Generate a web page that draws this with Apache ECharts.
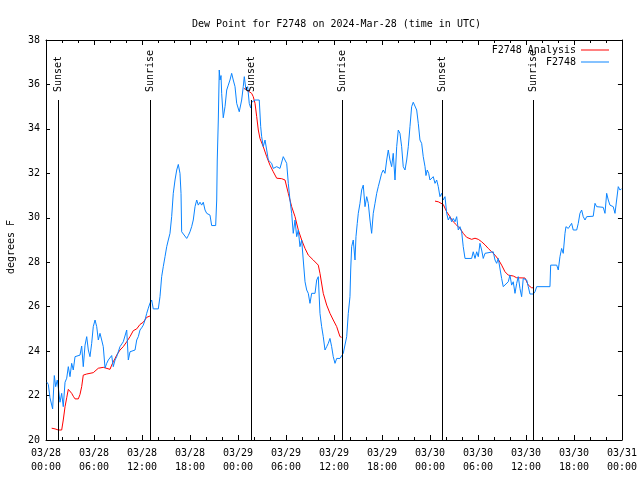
<!DOCTYPE html>
<html>
<head>
<meta charset="utf-8">
<script src="https://cdn.jsdelivr.net/npm/echarts@6/dist/echarts.min.js"></script>
<style>html,body{margin:0;padding:0;background:#fff}#c{width:640px;height:480px}</style>
</head>
<body>
<div id="c"></div>
<script>
// ---- data (hours since 2024-03-28 00:00 UTC) ----
const xTickLabels = ['03/28\n00:00','03/28\n06:00','03/28\n12:00','03/28\n18:00','03/29\n00:00','03/29\n06:00','03/29\n12:00','03/29\n18:00','03/30\n00:00','03/30\n06:00','03/30\n12:00','03/30\n18:00','03/31\n00:00'];
const yTicks = [20,22,24,26,28,30,32,34,36,38];

const blueHours = [0.12,0.29,0.5,0.83,1.04,1.21,1.41,1.56,1.75,1.96,2.16,2.38,2.59,2.79,3.0,3.21,3.41,3.63,3.84,4.25,4.46,4.66,4.88,5.09,5.29,5.5,5.71,5.91,6.13,6.34,6.54,6.75,6.96,7.16,7.38,7.59,7.79,8.0,8.21,8.41,8.63,8.84,9.25,9.66,9.88,10.09,10.29,10.5,11.13,11.34,11.54,11.75,11.96,12.16,12.38,12.59,12.79,13.0,13.21,13.41,14.04,14.25,14.46,14.66,14.88,15.09,15.29,15.5,15.71,15.91,16.13,16.34,16.54,16.75,16.88,16.96,17.16,17.59,17.79,18.0,18.21,18.41,18.63,18.84,19.04,19.25,19.46,19.66,19.88,20.09,20.29,20.5,20.71,21.21,21.34,21.41,21.54,21.66,21.75,21.88,21.96,22.16,22.38,22.59,22.79,23.0,23.21,23.41,23.63,23.84,24.16,24.46,24.66,24.79,25.0,25.21,25.41,25.59,25.71,26.13,26.66,26.84,26.96,27.16,27.38,27.59,27.79,28.0,28.21,28.41,28.84,29.04,29.25,29.66,29.88,30.09,30.29,30.5,30.71,30.91,31.13,31.34,31.54,31.75,31.96,32.16,32.38,32.59,32.79,33.0,33.21,33.63,33.84,34.04,34.25,34.46,34.66,34.88,35.09,35.29,35.5,35.71,35.91,36.13,36.34,36.75,37.16,37.38,37.59,37.79,38.0,38.09,38.21,38.41,38.63,38.75,38.91,39.04,39.25,39.46,39.66,39.88,40.09,40.29,40.5,40.71,40.91,41.13,41.34,41.54,41.75,41.96,42.16,42.38,42.59,42.79,43.0,43.21,43.41,43.63,43.84,44.04,44.25,44.46,44.66,44.88,45.09,45.29,45.5,45.71,45.91,46.13,46.34,46.54,46.75,46.96,47.16,47.38,47.5,47.66,47.84,48.0,48.21,48.41,48.63,48.84,49.04,49.25,49.46,49.66,49.88,50.09,50.29,50.5,50.71,50.91,51.13,51.34,51.54,51.75,51.96,52.16,52.38,53.21,53.41,53.63,53.84,54.04,54.25,54.46,54.66,54.88,55.09,55.91,56.13,56.34,56.54,56.75,56.96,57.16,57.38,57.79,58.0,58.21,58.41,58.63,58.84,59.04,59.25,59.46,59.66,59.88,60.09,60.29,60.5,60.91,61.13,61.34,63.0,63.09,63.84,64.04,64.25,64.46,64.66,64.88,65.0,65.29,65.5,65.71,65.91,66.34,66.54,66.75,66.96,67.16,67.38,67.59,68.41,68.63,68.84,69.66,69.88,70.09,70.29,70.5,70.71,70.91,71.13,71.38,71.54,71.75,71.94];
const blueValues = [22.6,22.5,21.9,21.4,22.9,22.4,22.7,22.3,21.7,22.1,21.5,22.6,22.78,23.3,22.85,23.45,23.15,23.75,23.75,23.82,24.23,23.3,24.27,24.65,24.05,23.75,24.35,25.1,25.4,25.1,24.5,24.8,24.5,24.2,23.24,23.45,23.6,23.6,23.8,23.3,23.6,23.75,24.2,24.42,24.5,24.95,23.6,23.97,24.05,24.5,24.65,24.95,25.05,25.17,25.4,25.7,25.93,26.16,26.3,25.9,25.9,26.45,27.35,27.8,28.25,28.7,29.0,29.3,30.05,31.1,31.7,32.15,32.4,32.0,31.1,29.37,29.3,29.07,29.2,29.37,29.6,29.9,30.5,30.8,30.57,30.7,30.57,30.7,30.35,30.2,30.27,30.12,29.65,29.65,30.8,32.6,34.4,36.65,36.2,36.4,35.6,34.5,35.0,35.75,35.97,36.2,36.5,36.2,35.9,35.15,34.77,35.3,35.9,36.35,35.75,35.9,35.15,34.94,35.2,35.3,35.3,34.1,33.65,33.2,33.5,33.05,32.6,32.67,32.45,32.22,32.3,32.37,32.22,32.75,32.75,32.45,31.55,30.8,30.2,29.3,29.9,29.15,29.45,28.7,29.0,28.1,27.12,26.75,26.6,26.15,26.6,26.6,27.2,27.35,25.7,25.1,24.65,24.05,24.2,24.35,24.57,24.2,23.75,23.45,23.67,23.67,23.9,23.9,24.65,25.7,26.45,27.65,28.7,29.0,28.1,29.15,29.75,30.2,30.65,31.25,31.47,30.5,30.95,30.65,29.9,29.3,30.2,30.65,31.1,31.4,31.7,32.0,32.15,32.0,32.6,33.05,32.6,32.3,32.9,31.7,33.2,33.95,33.8,33.2,32.3,32.15,32.6,33.2,34.1,35.0,35.2,35.15,34.85,34.25,33.5,33.35,32.75,32.3,31.9,32.15,32.0,31.7,31.7,31.85,31.55,31.7,31.4,30.95,31.1,30.8,30.95,30.2,29.9,30.05,29.82,29.97,29.82,30.05,29.45,29.6,29.37,28.7,28.17,28.17,28.47,28.17,28.47,28.25,28.85,28.55,28.17,28.4,28.47,28.47,28.1,27.95,28.17,28.17,27.27,26.9,26.9,27.12,27.42,26.97,27.12,26.6,27.05,27.35,26.82,26.45,27.27,27.35,27.2,26.9,26.57,26.57,26.67,26.9,26.9,27.87,27.87,27.65,28.25,28.62,28.4,29.3,29.6,29.52,29.6,29.75,29.45,29.45,29.75,30.2,30.35,30.05,29.9,30.05,30.07,30.65,30.5,30.47,30.2,31.1,30.8,30.57,30.5,30.5,30.2,30.2,31.4,31.25,31.3];

const redHours = [0.71,1.13,1.54,1.96,2.16,2.38,2.59,2.79,3.0,3.21,3.41,3.63,4.04,4.25,4.46,4.66,5.09,5.5,5.91,6.13,6.54,6.75,7.16,7.38,8.0,8.21,8.41,8.63,8.84,9.25,9.66,10.09,10.5,10.91,11.34,11.75,12.16,12.59,13.0,
  18.0,
  24.75,25.09,25.29,25.71,25.91,26.13,26.34,26.54,26.75,27.16,27.59,28.0,28.41,28.84,29.46,29.88,30.29,30.71,31.13,31.54,31.96,32.38,32.79,33.41,34.04,34.25,34.66,35.09,35.5,35.91,36.34,36.75,36.96,
  42.0,
  48.63,49.04,49.25,49.66,50.09,50.5,50.91,51.34,51.75,52.16,52.59,52.79,53.21,53.63,54.04,54.46,54.88,55.29,55.71,56.13,56.54,56.96,57.38,57.79,58.41,58.84,59.88,60.29,60.71,60.91];
const redValues = [20.53,20.5,20.45,20.45,20.9,21.5,21.9,22.28,22.28,22.1,21.97,21.85,21.85,22.05,22.4,22.92,22.97,23.0,23.03,23.1,23.23,23.27,23.27,23.18,23.18,23.37,23.52,23.67,23.82,24.05,24.2,24.42,24.65,24.92,25.0,25.2,25.3,25.52,25.58,
  null,
  35.82,35.75,35.67,35.6,35.45,35.15,34.55,33.95,33.57,33.2,32.75,32.37,32.07,31.78,31.76,31.7,31.1,30.5,30.05,29.45,29.0,28.62,28.32,28.1,27.87,27.5,26.6,26.07,25.7,25.4,25.1,24.65,24.62,
  null,
  30.75,30.72,30.68,30.6,30.27,30.05,29.82,29.67,29.52,29.3,29.12,29.03,29.03,29.08,29.03,28.92,28.78,28.62,28.47,28.32,28.13,27.87,27.57,27.42,27.38,27.3,27.29,26.97,26.85,26.85];

const sunHours = [1.55, 13.05, 25.58, 37.04, 49.54, 60.92];
const sunLabels = ['Sunset','Sunrise','Sunset','Sunrise','Sunset','Sunrise'];

// ---- chart ----
const FONT = '"DejaVu Sans Mono", monospace';
const blueData = blueHours.map((h, i) => [h, blueValues[i]]);
const redData = redHours.map((h, i) => [h, redValues[i] === null ? '-' : redValues[i]]);
const sunData = sunHours.map(h => [h, 20]);

const chart = echarts.init(document.getElementById('c'), null, {renderer: 'canvas'});
const axCommon = {
  axisLine: {show: true, onZero: false, lineStyle: {color: '#000', width: 1}},
  splitLine: {show: false}
};
const legendCommon = {
  right: 31, align: 'right', orient: 'vertical', padding: 0,
  icon: 'rect', itemWidth: 28, itemHeight: 1, selectedMode: false,
  textStyle: {fontFamily: FONT, fontSize: 10, color: '#000', lineHeight: 10}
};
chart.setOption({
  animation: false,
  backgroundColor: '#fff',
  title: {
    text: 'Dew Point for F2748 on 2024-Mar-28 (time in UTC)',
    left: 187, top: 14,
    textStyle: {fontFamily: FONT, fontSize: 10, fontWeight: 'normal', color: '#000'}
  },
  legend: [
    Object.assign({}, legendCommon, {data: ['F2748 Analysis'], top: 45}),
    Object.assign({}, legendCommon, {data: ['F2748'], top: 57})
  ],
  grid: {left: 46, right: 18, top: 40, bottom: 40, containLabel: false},
  graphic: [{
    type: 'text', x: 11, y: 247, rotation: Math.PI / 2,
    style: {text: 'degrees F', font: '10px ' + FONT, fill: '#000', align: 'center', verticalAlign: 'middle'}
  }],
  xAxis: [
    Object.assign({}, axCommon, {
      type: 'value', position: 'bottom', min: 0, max: 72, interval: 6,
      axisTick: {show: true, inside: true, length: 5, lineStyle: {color: '#000'}},
      minorTick: {show: true, splitNumber: 3, length: 3, lineStyle: {color: '#000'}},
      axisLabel: {show: true, margin: 6, fontFamily: FONT, fontSize: 10, color: '#000', lineHeight: 14,
        formatter: v => xTickLabels[Math.round(v / 6)]}
    }),
    Object.assign({}, axCommon, {
      type: 'value', position: 'top', min: 0, max: 72, interval: 6,
      axisTick: {show: true, inside: true, length: 5, lineStyle: {color: '#000'}},
      minorTick: {show: true, splitNumber: 3, length: 3, lineStyle: {color: '#000'}},
      axisLabel: {show: false}
    })
  ],
  yAxis: [
    Object.assign({}, axCommon, {
      type: 'value', position: 'left', min: 20, max: 38, interval: 2,
      axisTick: {show: true, inside: true, length: 4, lineStyle: {color: '#000'}},
      axisLabel: {show: true, margin: 6, fontFamily: FONT, fontSize: 10, color: '#000',
        formatter: v => String(yTicks[Math.round((v - 20) / 2)])}
    }),
    Object.assign({}, axCommon, {
      type: 'value', position: 'right', min: 20, max: 38, interval: 2,
      axisTick: {show: true, inside: true, length: 4, lineStyle: {color: '#000'}},
      axisLabel: {show: false}
    })
  ],
  series: [
    {
      name: 'F2748 Analysis', type: 'line', data: redData, symbol: 'none',
      connectNulls: false, color: '#ff0000',
      lineStyle: {width: 1, color: '#ff0000'}, z: 2
    },
    {
      name: 'F2748', type: 'line', data: blueData, symbol: 'none',
      color: '#0a84ff',
      lineStyle: {width: 1, color: '#0a84ff'}, z: 3
    },
    {
      name: 'sun', type: 'custom', data: sunData, z: 4, silent: true,
      encode: {x: 0, y: 1},
      renderItem: function (params, api) {
        const h = api.value(0);
        const p0 = api.coord([h, 20]);
        const p1 = api.coord([h, 35.3]);
        const pt = api.coord([h, 35.66]);
        const xx = Math.round(p0[0]) + 0.5;
        return {
          type: 'group',
          children: [
            {type: 'line', shape: {x1: xx, y1: p0[1], x2: xx, y2: p1[1]},
             style: {stroke: '#000', lineWidth: 1}},
            {type: 'text', x: xx, y: pt[1], rotation: Math.PI / 2,
             style: {text: sunLabels[params.dataIndex], font: '10px ' + FONT, fill: '#000',
                     align: 'left', verticalAlign: 'middle'}}
          ]
        };
      }
    }
  ]
});
</script>
</body>
</html>
